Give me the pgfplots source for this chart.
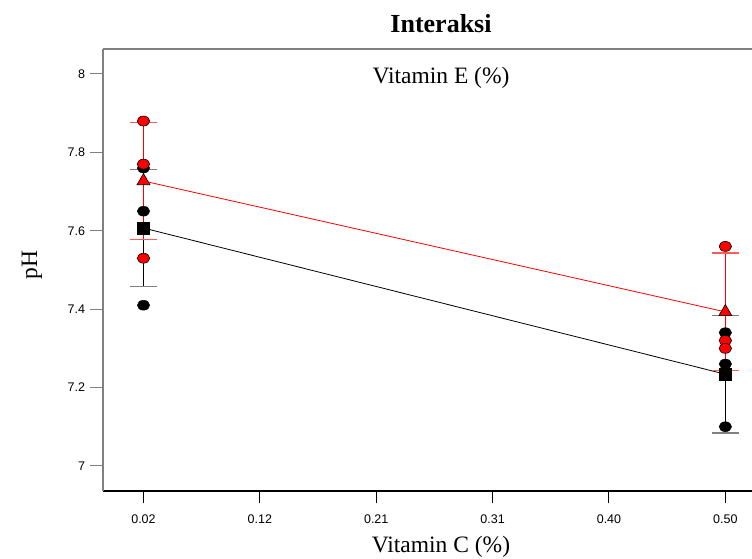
\documentclass[border=0pt]{standalone}
\usepackage{pgfplots}
\pgfplotsset{compat=1.18}
\usepackage{fontspec}
\setmainfont{Liberation Serif}
\newfontfamily\ticksf{Liberation Sans}
\definecolor{dered}{RGB}{255,0,0}
\definecolor{capred}{RGB}{255,90,90}
\definecolor{axgray}{RGB}{128,128,128}
\begin{document}
\begin{tikzpicture}[x=1pt,y=1pt]
\useasboundingbox (-103,-68) rectangle (649,491);
\clip (-103,-68) rectangle (649,491);
\begin{axis}[
  at={(0,0)}, anchor=south west, scale only axis,
  width=649pt, height=442pt,
  xmin=-0.0134, xmax=0.522, ymin=6.936, ymax=8.0638,
  axis x line=bottom, axis y line=left,
  axis line style={-, line width=1.5pt},
  x axis line style={black},
  y axis line style={axgray},
  xtick={0.02,0.116,0.212,0.308,0.404,0.50},
  xticklabels={0.02,0.12,0.21,0.31,0.40,0.50},
  ytick={7,7.2,7.4,7.6,7.8,8},
  yticklabels={7,7.2,7.4,7.6,7.8,8},
  tick align=outside, major tick length=12.5pt,
  x tick style={black, line width=1pt},
  y tick style={axgray, line width=1pt},
  tick label style={font=\ticksf\fontsize{12.5}{14}\selectfont},
  x tick label style={yshift=-8pt},
  y tick label style={xshift=-2pt},
  /pgf/number format/assume math mode=true,
  clip=false,
]
\draw[axgray, line width=1.5pt] (rel axis cs:0,1) -- (rel axis cs:1.2,1);
% black error bars (mean 7.607 / 7.234, +-0.15)
\addplot[black, line width=1.2pt, mark=none] coordinates {(0.02,7.457) (0.02,7.757)};
\addplot[black, line width=1.2pt, mark=none] coordinates {(0.5,7.084) (0.5,7.384)};
\addplot[only marks, mark=-, mark size=13.5pt, mark options={draw=axgray, line width=1.3pt}]
  coordinates {(0.02,7.457) (0.02,7.757) (0.5,7.084) (0.5,7.384)};
% red error bars (mean 7.727 / 7.393, +-0.15)
\addplot[dered, line width=1.2pt, mark=none] coordinates {(0.02,7.577) (0.02,7.877)};
\addplot[dered, line width=1.2pt, mark=none] coordinates {(0.5,7.243) (0.5,7.543)};
\addplot[only marks, mark=-, mark size=13.5pt, mark options={draw=capred, line width=1.3pt}]
  coordinates {(0.02,7.577) (0.02,7.877) (0.5,7.243) (0.5,7.543)};
% mean lines
\addplot[black, line width=0.8pt, mark=none] coordinates {(0.02,7.607) (0.5,7.234)};
\addplot[dered, line width=0.8pt, mark=none] coordinates {(0.02,7.727) (0.5,7.393)};
% black observations
\addplot[only marks, mark=*, mark size=5pt, mark options={xscale=1.25, fill=black, draw=black}]
  coordinates {(0.02,7.76) (0.02,7.65) (0.02,7.41) (0.5,7.34) (0.5,7.26) (0.5,7.10)};
% red observations
\addplot[only marks, mark=*, mark size=5pt, mark options={xscale=1.25, fill=dered, draw=black, line width=0.6pt}]
  coordinates {(0.02,7.88) (0.02,7.77) (0.02,7.53) (0.5,7.56) (0.5,7.32) (0.5,7.30)};
% means
\addplot[only marks, mark=square*, mark size=6pt, mark options={fill=black, draw=black}]
  coordinates {(0.02,7.607) (0.5,7.234)};
\addplot[only marks, mark=triangle*, mark size=7.5pt, mark options={fill=dered, draw=black, line width=0.6pt}]
  coordinates {(0.02,7.727) (0.5,7.393)};
\end{axis}
\node[font=\fontsize{26}{30}\selectfont\bfseries] at (338,467) {Interaksi};
\node[font=\fontsize{23.5}{28}\selectfont] at (338,413) {Vitamin E (\%)};
\node[font=\fontsize{23.5}{28}\selectfont] at (338,-56) {Vitamin C (\%)};
\node[font=\fontsize{23.5}{28}\selectfont, rotate=90] at (-71,226) {pH};
\end{tikzpicture}
\end{document}
